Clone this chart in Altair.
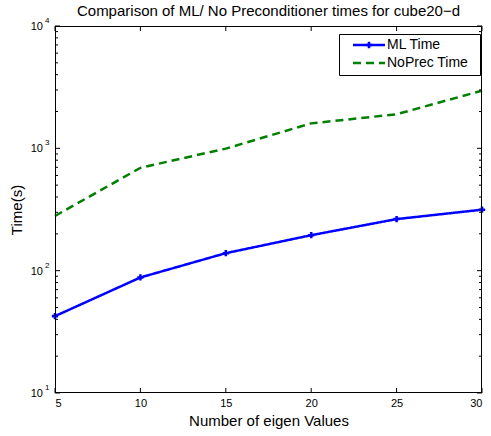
import altair as alt
import pandas as pd

eigen_values = [5, 10, 15, 20, 25, 30]
ml_time = [42.5, 88, 139, 195, 264, 315]
noprec_time = [280, 693, 995, 1600, 1900, 2960]
series_names = ["ML Time", "NoPrec Time"]
series_colors = ["#0000ff", "#008000"]
title_text = "Comparison of ML/ No Preconditioner times for cube20\u2212d"
x_label = "Number of eigen Values"
y_label = "Time(s)"
x_ticks = [5, 10, 15, 20, 25, 30]
y_major = [10, 100, 1000, 10000]
y_exponents = ["1", "2", "3", "4"]
y_minor = [20, 30, 40, 50, 60, 70, 80, 90,
           200, 300, 400, 500, 600, 700, 800, 900,
           2000, 3000, 4000, 5000, 6000, 7000, 8000, 9000]

W, H = 427, 367
FONT = "Liberation Sans"

df = pd.DataFrame({
    "x": eigen_values * 2,
    "value": ml_time + noprec_time,
    "series": [series_names[0]] * len(eigen_values) + [series_names[1]] * len(eigen_values),
})
df_ml = pd.DataFrame({"x": eigen_values, "value": ml_time})

xs = alt.Scale(domain=[5, 30], nice=False, zero=False)
ys = alt.Scale(type="log", domain=[10, 10000], nice=False)

x_axis = alt.Axis(
    values=x_ticks, ticks=False, domain=False, grid=False,
    labelFontSize=11, labelPadding=4, labelColor="#000", labelFont=FONT,
    title=x_label, titleFontSize=15, titleFontWeight="normal", titleFont=FONT,
    titlePadding=5, titleColor="#000")
y_axis = alt.Axis(
    labels=False, ticks=False, domain=False, grid=False,
    title=y_label, titleFontSize=15, titleFontWeight="normal", titleFont=FONT,
    titlePadding=31, titleColor="#000")


def X(field):
    return alt.X(field, scale=xs, axis=x_axis)


def Y(field):
    return alt.Y(field, scale=ys, axis=y_axis)


lines = alt.Chart(df).mark_line(strokeWidth=2.5).encode(
    x=X("x:Q"),
    y=Y("value:Q"),
    color=alt.Color("series:N", scale=alt.Scale(domain=series_names, range=series_colors), legend=None),
    strokeDash=alt.StrokeDash("series:N", scale=alt.Scale(domain=series_names, range=[[1, 0], [8, 5]]), legend=None),
)

points = alt.Chart(df_ml).mark_point(shape="cross", filled=True, size=40, color=series_colors[0], opacity=1).encode(
    x=X("x:Q"),
    y=Y("value:Q"),
)

box = alt.Chart(pd.DataFrame({"a": [0]})).mark_rect(fill="transparent", stroke="black", strokeWidth=1).encode(
    x=alt.value(0.5), x2=alt.value(W - 0.5), y=alt.value(0.5), y2=alt.value(H - 0.5)
)

xt = pd.DataFrame({"t": x_ticks})
xt_bottom = alt.Chart(xt).mark_rule(color="black", strokeWidth=1).encode(
    x=X("t:Q"), y=alt.value(H), y2=alt.value(H - 5))
xt_top = alt.Chart(xt).mark_rule(color="black", strokeWidth=1).encode(
    x=X("t:Q"), y=alt.value(0), y2=alt.value(5))

ymaj = pd.DataFrame({"t": y_major})
ymin = pd.DataFrame({"t": y_minor})


def yticks(data, x0, x1):
    return alt.Chart(data).mark_rule(color="black", strokeWidth=1).encode(
        y=Y("t:Q"), x=alt.value(x0), x2=alt.value(x1))


ylab = pd.DataFrame({"t": y_major, "base": ["10"] * len(y_major), "exp": y_exponents})
ylab_base = alt.Chart(ylab).mark_text(align="right", baseline="middle", fontSize=11, font=FONT, color="black", dy=1).encode(
    y=Y("t:Q"), x=alt.value(-12), text="base:N")
ylab_exp = alt.Chart(ylab).mark_text(align="left", baseline="middle", fontSize=8, font=FONT, color="black", dy=-5).encode(
    y=Y("t:Q"), x=alt.value(-10), text="exp:N")

one = pd.DataFrame({"a": [0]})
leg_box = alt.Chart(one).mark_rect(fill="white", stroke="black", strokeWidth=1).encode(
    x=alt.value(284.5), x2=alt.value(425.5), y=alt.value(8.5), y2=alt.value(49.5))
leg_l1 = alt.Chart(one).mark_rule(color=series_colors[0], strokeWidth=2.5).encode(
    x=alt.value(298), x2=alt.value(330), y=alt.value(19))
leg_p1 = alt.Chart(one).mark_point(shape="cross", filled=True, size=40, color=series_colors[0], opacity=1).encode(
    x=alt.value(314), y=alt.value(19))
leg_l2 = alt.Chart(one).mark_rule(color=series_colors[1], strokeWidth=2.5, strokeDash=[8, 5]).encode(
    x=alt.value(298), x2=alt.value(330), y=alt.value(37))
leg_t1 = alt.Chart(one).mark_text(align="left", baseline="middle", fontSize=14, font=FONT, color="black").encode(
    x=alt.value(332), y=alt.value(19), text=alt.value(series_names[0]))
leg_t2 = alt.Chart(one).mark_text(align="left", baseline="middle", fontSize=14, font=FONT, color="black").encode(
    x=alt.value(332), y=alt.value(37), text=alt.value(series_names[1]))

chart = alt.layer(
    lines, points, box, xt_bottom, xt_top,
    yticks(ymaj, 0, 5), yticks(ymaj, W, W - 5),
    yticks(ymin, 0, 3), yticks(ymin, W, W - 3),
    ylab_base, ylab_exp,
    leg_box, leg_l1, leg_p1, leg_l2, leg_t1, leg_t2,
).properties(
    width=W, height=H,
    title=alt.TitleParams(text=title_text, fontSize=15, fontWeight="normal", font=FONT,
                          anchor="middle", offset=8, dy=10, color="black"),
    autosize=alt.AutoSizeParams(type="none"),
    padding={"left": 55, "top": 26, "right": 9, "bottom": 43},
    background="white",
).configure_view(strokeWidth=0)

chart.save("out.html", embed_options={"renderer": "svg", "actions": False})
